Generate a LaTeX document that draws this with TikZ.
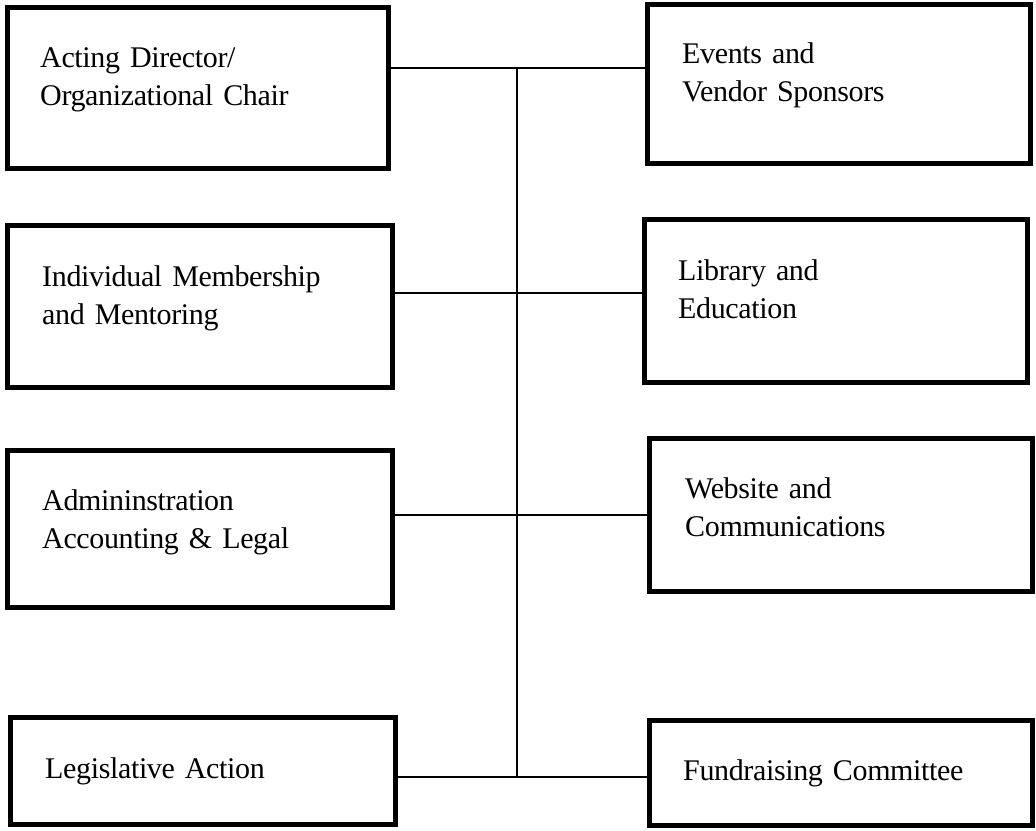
\documentclass[tikz,border=0pt]{standalone}
\usepackage{fontspec}
\setmainfont{Liberation Serif}[LetterSpace=-1.2]
\usetikzlibrary{positioning}
\DeclareRobustCommand\unitfont{\fontsize{30}{38}\selectfont\fontdimen2\font=3.5pt\relax}

\begin{document}
\begin{tikzpicture}[x=1pt,y=-1pt]

            %\draw [help lines] (0,0) grid (1036,830);
            \tikzset{unitbox/.style = {rectangle,draw,line width = 5pt,minimum width = 383pt},
                     unittext/.style = {anchor = base west,inner sep = 0pt,text width = 320pt,font = \unitfont}}
            \useasboundingbox (0,0) rectangle (1036,830);

            \path   (198,88)    node (acting)  [unitbox,minimum width = 381pt,minimum height = 161pt] {}
                    (839,84)    node (events)  [unitbox,minimum height = 159pt] {}
                    (200,306.5) node (member)  [unitbox,minimum width = 385pt,minimum height = 162pt] {}
                    (836,301)   node (library) [unitbox,minimum height = 163pt] {}
                    (200,529)   node (admin)   [unitbox,minimum width = 385pt,minimum height = 157pt] {}
                    (841,515)   node (website) [unitbox,minimum height = 153pt] {}
                    (203,771)   node (legis)   [unitbox,minimum width = 385pt,minimum height = 107.5pt] {}
                    (841,773)   node (fund)    [unitbox,minimum height = 105pt] {};

            \path   (40,67)   node (actingtxt)  [unittext] {Acting Director/\\Organizational Chair}
                    (682,63)  node (eventstxt)  [unittext] {Events and\\Vendor Sponsors}
                    (42,286)  node (membertxt)  [unittext] {Individual Membership\\and Mentoring}
                    (678,280) node (librarytxt) [unittext] {Library and\\Education}
                    (42,510)  node (admintxt)   [unittext] {Admininstration\\Accounting \& Legal}
                    (685,498) node (websitetxt) [unittext] {Website and\\Communications}
                    (45,778)  node (legistxt)   [unittext] {Legislative Action}
                    (683,780) node (fundtxt)    [unittext] {Fundraising Committee};

            \coordinate (j1) at (517,68);
            \coordinate (j2) at (517,293);
            \coordinate (j3) at (517,515);
            \coordinate (j4) at (517,777);

            \draw[line width = 2pt] (j1) -- (j4);
            \draw[line width = 2pt] (acting.east |- j1) -- (j1 -| events.west);
            \draw[line width = 2pt] (member.east |- j2) -- (j2 -| library.west);
            \draw[line width = 2pt] (admin.east |- j3) -- (j3 -| website.west);
            \draw[line width = 2pt] (legis.east |- j4) -- (j4 -| fund.west);
        \end{tikzpicture}
\end{document}
